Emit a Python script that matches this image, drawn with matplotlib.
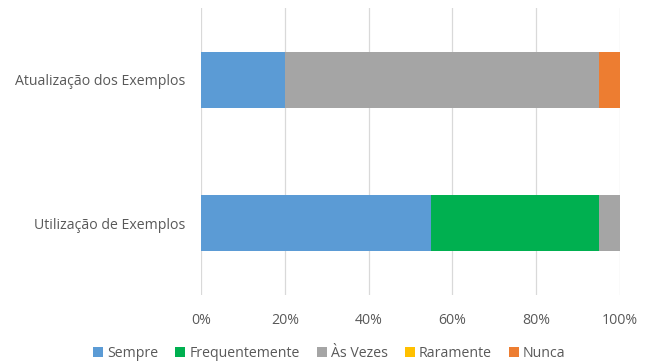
import matplotlib
matplotlib.use("Agg")
import matplotlib.pyplot as plt
from matplotlib.ticker import PercentFormatter

categories = ["Utilização de Exemplos", "Atualização dos Exemplos"]
series_names = ["Sempre", "Frequentemente", "Às Vezes", "Raramente", "Nunca"]
sempre = [55, 20]
frequentemente = [40, 0]
as_vezes = [5, 75]
raramente = [0, 0]
nunca = [0, 5]
colors = ["#5B9BD5", "#00B050", "#A5A5A5", "#FFC000", "#ED7D31"]
x_ticks = [0, 20, 40, 60, 80, 100]

plt.rcParams["font.family"] = ["Open Sans", "DejaVu Sans"]
text_color = "#595959"

fig = plt.figure(figsize=(6.52, 3.64), dpi=100)
ax = fig.add_axes([201 / 652, (364 - 295) / 364, (620 - 201) / 652, 287 / 364])

values = [sempre, frequentemente, as_vezes, raramente, nunca]
y = [0.5, 1.5]
left = [0, 0]
for name, vals, c in zip(series_names, values, colors):
    ax.barh(y, vals, left=left, height=0.39, color=c, label=name, zorder=3)
    left = [l + v for l, v in zip(left, vals)]

ax.set_ylim(0, 2)
ax.set_xlim(0, 100)
ax.set_yticks(y)
ax.set_yticklabels(categories)
ax.set_xticks(x_ticks)
ax.xaxis.set_major_formatter(PercentFormatter(decimals=0))
ax.tick_params(axis="both", length=0, labelsize=10.2, colors=text_color)
ax.tick_params(axis="x", pad=13)
ax.tick_params(axis="y", pad=11)
ax.grid(axis="x", color="#D9D9D9", linewidth=0.9, zorder=0)
for s in ax.spines.values():
    s.set_visible(False)

leg = fig.legend(loc="center", bbox_to_anchor=(0.505, 0.03), ncol=5, frameon=False,
                 fontsize=10.2, handlelength=0.7, handleheight=0.7, handletextpad=0.3,
                 columnspacing=1.2)
for t in leg.get_texts():
    t.set_color(text_color)

fig.savefig("out.png", dpi=100)
